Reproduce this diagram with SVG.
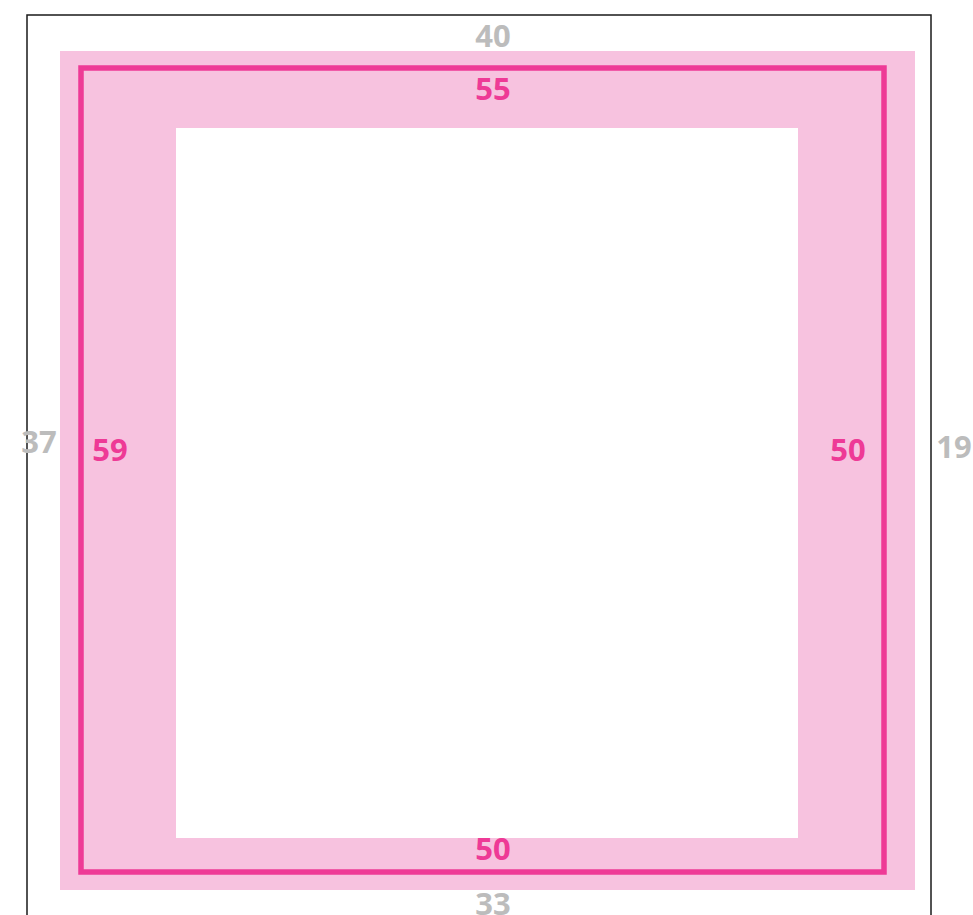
<svg xmlns="http://www.w3.org/2000/svg" width="973" height="915" viewBox="0 0 973 915">
<style>
.outer{fill:none;stroke:#1a1a1a;stroke-width:1.5}
.pad{fill:#f7c2df}
.inner{fill:#fff}
.frame{fill:none;stroke:#ee3a96;stroke-width:5.5}
.g{font-family:"Noto Sans","DejaVu Sans",sans-serif;font-weight:bold;font-size:31px;fill:#bcbcbc;text-anchor:middle}
.m{font-family:"Noto Sans","DejaVu Sans",sans-serif;font-weight:bold;font-size:31px;fill:#ee3a96;text-anchor:middle}
</style>
<rect width="973" height="915" fill="#fff"/>
<g id="margin-box">
<rect class="outer" x="27" y="15" width="904" height="920"/>
<text class="g" x="493" y="47">40</text>
<text class="g" x="954" y="458">19</text>
<text class="g" x="493" y="915">33</text>
<text class="g" x="39" y="453">37</text>
</g>
<g id="padding-box">
<rect class="pad" x="60" y="51" width="855" height="839"/>
<rect class="inner" x="176" y="128" width="622" height="710"/>
</g>
<g id="border-box">
<rect class="frame" x="81" y="68" width="803" height="804"/>
<text class="m" x="493" y="100">55</text>
<text class="m" x="848" y="461">50</text>
<text class="m" x="493" y="860">50</text>
<text class="m" x="110" y="461">59</text>
</g>
</svg>
